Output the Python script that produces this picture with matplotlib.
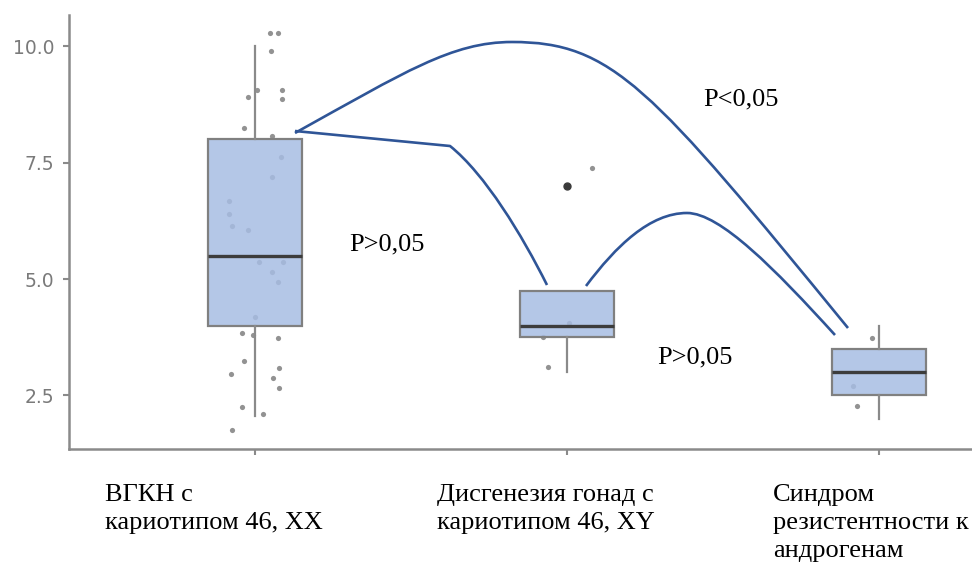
import numpy as np
import matplotlib
matplotlib.use("Agg")
import matplotlib.pyplot as plt
from matplotlib.path import Path
from matplotlib.patches import PathPatch

# ---------------- data ----------------
categories = ["ВГКН с\nкариотипом 46, XX",
              "Дисгенезия гонад с\nкариотипом 46, XY",
              "Синдром\nрезистентности к\nандрогенам"]
box_q1 = [4.0, 3.75, 2.5]
box_med = [5.5, 4.0, 3.0]
box_q3 = [8.0, 4.75, 3.5]
whisker_low = [2.05, 3.0, 2.0]
whisker_high = [10.0, 4.75, 4.0]
outliers = [[], [7.0], []]

points_g1 = [10.28, 10.28, 9.89, 9.06, 8.9, 9.06, 8.86, 8.24, 8.07, 7.62, 7.19,
             6.67, 6.39, 6.14, 6.05, 5.36, 5.36, 5.15, 4.94, 4.19, 3.84, 3.80,
             3.73, 3.24, 2.96, 3.09, 2.88, 2.66, 2.25, 2.10, 1.76]
jitter_g1 = [0.048, 0.074, 0.051, 0.006, -0.022, 0.087, 0.087, -0.035, 0.055,
             0.083, 0.055, -0.083, -0.083, -0.074, -0.022, 0.013, 0.090, 0.055,
             0.074, 0.0, -0.042, -0.006, 0.074, -0.035, -0.077, 0.077, 0.058,
             0.077, -0.042, 0.026, -0.074]
points_g2 = [7.38, 3.11, 3.75, 4.05]
jitter_g2 = [0.08, -0.06, -0.077, 0.006]
points_g3 = [3.73, 2.27, 2.7]
jitter_g3 = [-0.022, -0.071, -0.083]

yticks = [2.5, 5.0, 7.5, 10.0]
pvalue_labels = ["P>0,05", "P<0,05", "P>0,05"]

# ---------------- figure ----------------
W, H = 972, 566
fig = plt.figure(figsize=(W / 100, H / 100), dpi=100)
ax = fig.add_axes([69 / W, 1 - 449 / H, 1 - 69 / W, (449 - 15) / H])

grey = "#8a8a8a"
ax.set_xlim(-0.596, 2.298)
ax.set_ylim(1.35, 10.67)

# jitter points (under boxes)
for i, (pts, jit) in enumerate([(points_g1, jitter_g1), (points_g2, jitter_g2),
                                (points_g3, jitter_g3)]):
    ax.scatter(np.array(jit) + i, pts, s=14, color="#6e6e6e", alpha=0.75,
               linewidths=0, zorder=1)

stats = []
for i in range(3):
    stats.append(dict(q1=box_q1[i], med=box_med[i], q3=box_q3[i],
                      whislo=whisker_low[i], whishi=whisker_high[i],
                      fliers=outliers[i]))
bp = ax.bxp(stats, positions=[0, 1, 2], widths=0.3, patch_artist=True,
            showcaps=False, manage_ticks=False,
            boxprops=dict(facecolor=(167 / 255, 189 / 255, 227 / 255, 0.85),
                          edgecolor="#808080", linewidth=1.6),
            whiskerprops=dict(color=grey, linewidth=1.6),
            medianprops=dict(color="#3c3c3c", linewidth=2.4),
            flierprops=dict(marker="o", markersize=5, markerfacecolor="#3a3a3a",
                            markeredgecolor="#3a3a3a"),
            zorder=2)

ax.set_yticks(yticks)
ax.set_yticklabels([f"{v:.1f}" for v in yticks])
ax.set_xticks([0, 1, 2])
ax.set_xticklabels([])
for s in ["top", "right"]:
    ax.spines[s].set_visible(False)
for s in ["left", "bottom"]:
    ax.spines[s].set_color(grey)
    ax.spines[s].set_linewidth(1.8)
ax.tick_params(axis="both", colors=grey, width=1.5, length=4.5)
ax.tick_params(axis="y", labelsize=13.5, labelcolor="#7a7a7a", pad=6)

# category labels (serif, left aligned under each group, one line each)
serif = ["Liberation Serif", "DejaVu Serif"]
label_x = [105, 437, 773]
baselines = [501, 529, 557]
for cat, lx in zip(categories, label_x):
    for line, by in zip(cat.split("\n"), baselines):
        fig.text(lx / W, 1 - by / H, line, ha="left", va="baseline",
                 fontsize=19, family=serif, color="black")

# significance lines (cubic Bezier curves in figure pixel space)
blue = "#2F5597"
def draw(verts, codes):
    v = np.asarray(verts, float)
    v = np.column_stack([v[:, 0] / W, 1 - v[:, 1] / H])
    fig.add_artist(PathPatch(Path(v, codes), transform=fig.transFigure,
                             facecolor="none", edgecolor=blue, linewidth=1.9,
                             capstyle="butt", joinstyle="round"))

M, C, L = Path.MOVETO, Path.CURVE4, Path.LINETO
# big arc (group 1 -> group 3)
draw([(295, 133), (405, 72), (452, 42), (512, 42),
      (612, 42), (650, 86), (848, 328)],
     [M, C, C, C, C, C, C])
# group 1 -> group 2
draw([(295, 131), (450, 146), (485, 174), (522, 235), (547, 285)],
     [M, L, C, C, C])
# group 2 -> group 3
draw([(586, 286), (616, 246), (650, 213), (687, 213),
      (720, 213), (775, 269), (835, 335)],
     [M, C, C, C, C, C, C])

# p-value texts
p_pos = [(349, 250), (703, 105), (657, 363)]
for txt, (px, py) in zip(pvalue_labels, p_pos):
    fig.text(px / W, 1 - py / H, txt, ha="left", va="baseline", fontsize=19,
             family=serif, color="black")

fig.savefig("out.png", dpi=100)
